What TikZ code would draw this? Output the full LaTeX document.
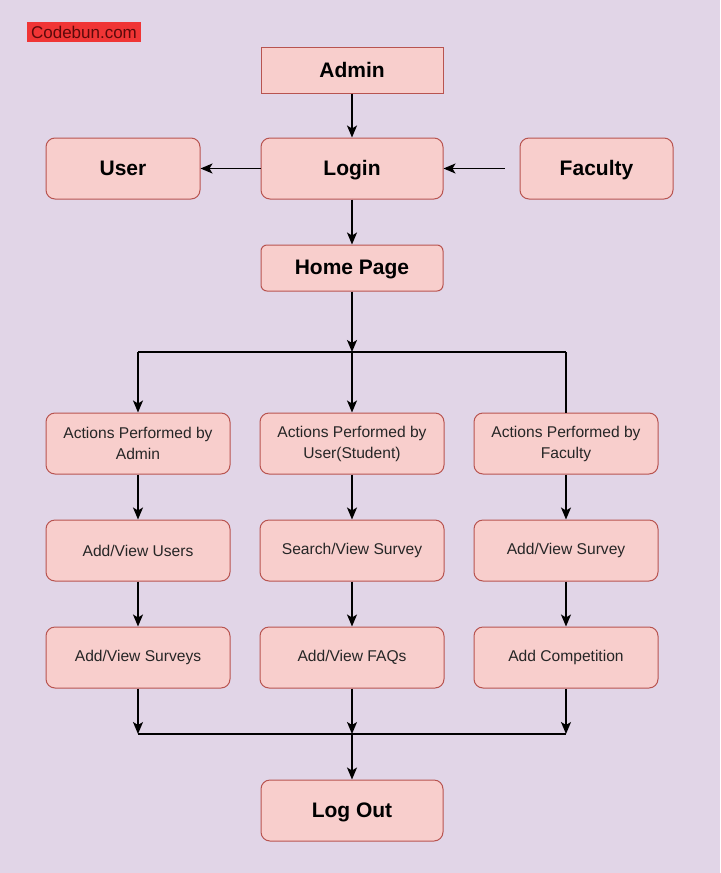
\documentclass[tikz,border=0pt]{standalone}
\usepackage{fontspec}
\usetikzlibrary{arrows.meta}
\setmainfont{Liberation Sans}
\definecolor{bgcol}{HTML}{E1D5E7}
\definecolor{boxfill}{HTML}{F8CECC}
\definecolor{boxline}{HTML}{B85450}
\definecolor{tagred}{HTML}{F03535}
\definecolor{tagtext}{HTML}{5C0A0A}
\begin{document}
\begin{tikzpicture}
[x=0.5pt,y=-0.5pt,%
 boxstyle/.style={draw=boxline,fill=boxfill,line width=0.5pt,rounded corners=4.5pt,minimum height=30.5pt,inner sep=1pt,align=center},%
 bigbox/.style={boxstyle,font=\fontsize{10.5}{12}\selectfont\bfseries,text=black,text depth=0.5pt},%
 smallbox/.style={boxstyle,minimum width=92pt,font=\fontsize{7.8}{10.5}\selectfont,text=black!85},%
 linestyle/.style={line width=0.75pt},%
 arrowstyle/.style={line width=0.75pt,->,>={Stealth[length=6pt,width=5pt,inset=1.5pt]}}]
%% background
\fill[bgcol] (0,0) rectangle (720,873);
\useasboundingbox (0,0) rectangle (720,873);
\node[fill=tagred,text=tagtext,inner sep=0pt,minimum width=57pt,minimum height=10pt,font=\fontsize{8.5}{10}\selectfont] (tag) at (84,32) {Codebun.com};
%% top part
\node[bigbox,rounded corners=0pt,minimum width=91pt,minimum height=23pt] (admin) at (352,70) {Admin};
\node[bigbox,minimum width=91pt] (login) at (352,168.5) {Login};
\node[bigbox,minimum width=77pt] (user) at (123,168.5) {User};
\node[bigbox,minimum width=76.5pt] (fac) at (596.5,168.5) {Faculty};
\node[bigbox,rounded corners=3pt,minimum width=91pt,minimum height=23pt] (home) at (352,268) {Home Page};
%% three columns
\node[smallbox] (actA) at (138,443.5) {Actions Performed by\\Admin};
\node[smallbox] (actU) at (352,443.5) {Actions Performed by\\User(Student)};
\node[smallbox] (actF) at (566,443.5) {Actions Performed by\\Faculty};
\node[smallbox] (usersA) at (138,550.5) {Add/View Users};
\node[smallbox] (searchU) at (352,550.5) {Search/View Survey};
\node[smallbox] (surveyF) at (566,550.5) {Add/View Survey};
\node[smallbox] (surveysA) at (138,657.5) {Add/View Surveys};
\node[smallbox] (faqU) at (352,657.5) {Add/View FAQs};
\node[smallbox] (compF) at (566,657.5) {Add Competition};
\node[bigbox,minimum width=91pt] (logout) at (352,810.5) {Log Out};
\coordinate (split) at (352,352);
\coordinate (join) at (352,734);
%% connectors at the top
\draw[arrowstyle] (admin) -- (login);
\draw[arrowstyle] (login) -- (user);
\draw[arrowstyle,shorten <=7.5pt] (fac) -- (login);
\draw[arrowstyle] (login) -- (home);
%% branching
\draw[arrowstyle] (home) -- (split);
\draw[linestyle] (actA.north |- split) -- (actF.north |- split);
\draw[arrowstyle] (actA.north |- split) -- (actA.north);
\draw[arrowstyle] (split) -- (actU.north);
\draw[linestyle] (actF.north |- split) -- (actF.north);
%% down each column
\draw[arrowstyle] (actA) -- (usersA);
\draw[arrowstyle] (usersA) -- (surveysA);
\draw[arrowstyle] (actU) -- (searchU);
\draw[arrowstyle] (searchU) -- (faqU);
\draw[arrowstyle] (actF) -- (surveyF);
\draw[arrowstyle] (surveyF) -- (compF);
%% joining to log out
\draw[arrowstyle] (surveysA) -- (surveysA.south |- join);
\draw[arrowstyle] (faqU) -- (join);
\draw[arrowstyle] (compF) -- (compF.south |- join);
\draw[linestyle] (surveysA.south |- join) -- (compF.south |- join);
\draw[arrowstyle] (join) -- (logout);
\end{tikzpicture}
\end{document}
